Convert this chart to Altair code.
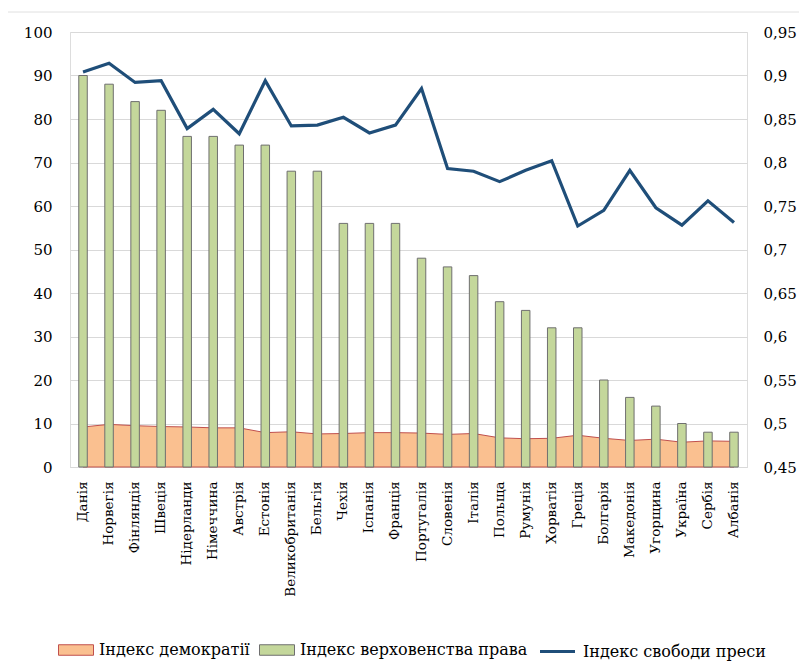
import altair as alt
import pandas as pd

countries = ["Данія", "Норвегія", "Фінляндія", "Швеція", "Нідерланди", "Німеччина",
             "Австрія", "Естонія", "Великобританія", "Бельгія", "Чехія", "Іспанія",
             "Франція", "Португалія", "Словенія", "Італія", "Польща", "Румунія",
             "Хорватія", "Греція", "Болгарія", "Македонія", "Угорщина", "Україна",
             "Сербія", "Албанія"]
rule_of_law = [90, 88, 84, 82, 76, 76, 74, 74, 68, 68, 56, 56, 56, 48, 46, 44, 38, 36,
               32, 32, 20, 16, 14, 10, 8, 8]
democracy = [9.2, 9.8, 9.5, 9.3, 9.2, 9.0, 9.0, 7.9, 8.1, 7.6, 7.7, 7.9, 7.9, 7.8, 7.5,
             7.7, 6.7, 6.5, 6.6, 7.3, 6.6, 6.1, 6.4, 5.7, 6.0, 5.9]
press_freedom = [0.904, 0.914, 0.892, 0.894, 0.839, 0.861, 0.833, 0.894, 0.842, 0.843,
                 0.852, 0.834, 0.843, 0.885, 0.793, 0.790, 0.778, 0.791, 0.802, 0.727,
                 0.745, 0.791, 0.748, 0.728, 0.756, 0.731]
left_ticks = list(range(0, 101, 10))
right_ticks = [0.45, 0.5, 0.55, 0.6, 0.65, 0.7, 0.75, 0.8, 0.85, 0.9, 0.95]

S_DEM = "Індекс демократії"
S_ROL = "Індекс верховенства права"
S_PRESS = "Індекс свободи преси"

df = pd.DataFrame({"country": countries, "rol": rule_of_law,
                   "dem": democracy, "press": press_freedom})

FONT = "DejaVu Serif"

fill_scale = alt.Scale(domain=[S_DEM, S_ROL], range=["#fac090", "#c4d79b"])
stroke_scale = alt.Scale(domain=[S_DEM, S_ROL], range=["#c0504d", "#6f6f6f"])
line_scale = alt.Scale(domain=[S_PRESS], range=["#1f4e79"])

legend_a = alt.Legend(
    title=None, orient="none", legendX=-12, legendY=600, direction="horizontal",
    symbolType="M-1,-0.3H1V0.3H-1Z", symbolSize=1225, symbolStrokeWidth=1,
    symbolOpacity=1, labelFont=FONT, labelFontSize=16, labelColor="#000",
    labelOffset=5, columnPadding=7, labelLimit=400)
legend_b = alt.Legend(
    title=None, orient="none", legendX=468, legendY=600, direction="horizontal",
    symbolType="stroke", symbolSize=1225, symbolStrokeWidth=3.2,
    labelFont=FONT, labelFontSize=16, labelColor="#000", labelOffset=6,
    labelLimit=400)

x_enc = alt.X("country:N", sort=None, title=None,
              scale=alt.Scale(paddingInner=0, paddingOuter=0),
              axis=alt.Axis(labelAngle=-90, labelFont=FONT, labelFontSize=13.5,
                            labelColor="#000", labelPadding=14, ticks=False,
                            domain=True, domainColor="#d9d9d9", labelLimit=200))

y_left = alt.Scale(domain=[0, 100], nice=False)
base = alt.Chart(df)

area = base.transform_calculate(series=f"'{S_DEM}'").mark_area(
    opacity=1, strokeWidth=1).encode(
    x=x_enc,
    y=alt.Y("dem:Q", scale=y_left, title=None,
            axis=alt.Axis(values=left_ticks, grid=True, gridColor="#d9d9d9",
                          domain=False, ticks=False, labelFont=FONT,
                          labelFontSize=15, labelColor="#000", labelPadding=18)),
    fill=alt.Fill("series:N", scale=fill_scale, legend=legend_a),
    stroke=alt.Stroke("series:N", scale=stroke_scale, legend=legend_a),
)
bars = base.transform_calculate(series=f"'{S_ROL}'").mark_bar(
    width=8.5, strokeWidth=1).encode(
    x=x_enc, y=alt.Y("rol:Q", scale=y_left),
    fill=alt.Fill("series:N", scale=fill_scale, legend=legend_a),
    stroke=alt.Stroke("series:N", scale=stroke_scale, legend=legend_a),
)
frame = alt.Chart(pd.DataFrame({"a": [0]})).mark_rect(
    fillOpacity=0, stroke="#e0e0e0", strokeWidth=1).encode(
    x=alt.value(-63), x2=alt.value(730), y=alt.value(-20), y2=alt.value(640))

left = alt.layer(frame, area, bars)

line = base.transform_calculate(series=f"'{S_PRESS}'").mark_line(
    strokeWidth=3.2, strokeJoin="miter").encode(
    x=x_enc,
    y=alt.Y("press:Q", title=None,
            scale=alt.Scale(domain=[0.45, 0.95], zero=False, nice=False),
            axis=alt.Axis(orient="right", values=right_ticks, grid=False,
                          domain=False, ticks=False, labelFont=FONT,
                          labelFontSize=15, labelColor="#000", labelPadding=16,
                          labelExpr="replace(format(datum.value, '.2~f'), '.', ',')")),
    color=alt.Color("series:N", scale=line_scale, legend=legend_b),
)

chart = alt.layer(left, line).resolve_scale(y="independent").properties(
    width=677, height=435,
    autosize=alt.AutoSizeParams(type="none"),
    padding={"left": 62, "top": 24, "right": 52, "bottom": 202},
    background="white",
).configure_view(stroke=None).configure(font=FONT)

chart.save("out.html", embed_options={"renderer": "svg", "actions": False})
